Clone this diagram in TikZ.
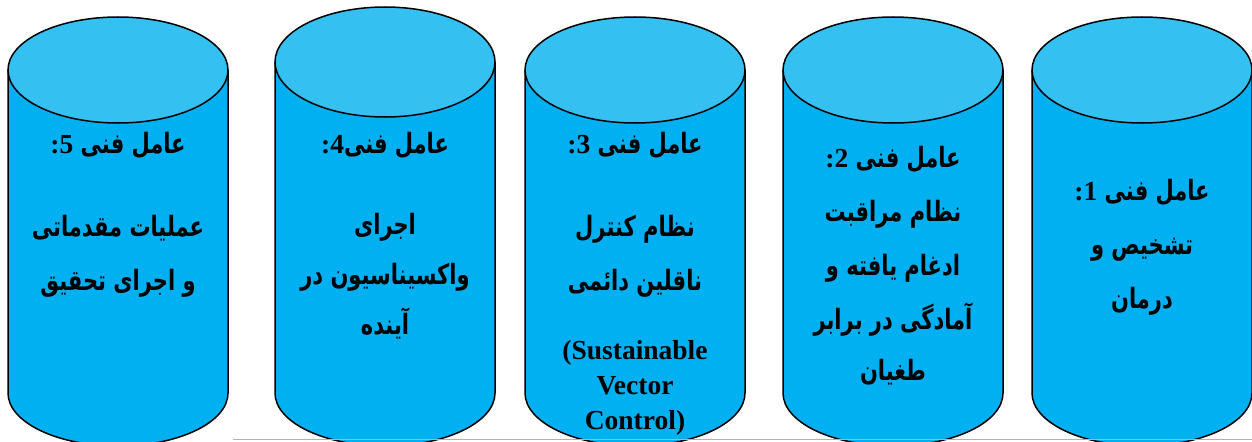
\documentclass[tikz,border=0pt]{standalone}
\usepackage{fontspec}
\setmainfont{Liberation Serif}
\newfontfamily\fafont[Script=Arabic,FakeStretch=0.75]{DejaVu Sans}
\TeXXeTstate=1
\definecolor{cylbody}{HTML}{00B0F0}
\definecolor{cyltop}{HTML}{35C0F2}
\newcommand{\fa}[1]{\beginR{\fafont\fontsize{11.2}{21.6}\selectfont #1}\endR}
\newcommand{\fanum}[2]{\beginR{\fafont\fontsize{11.2}{21.6}\selectfont #1}#2\kern0pt:\endR}
\tikzset{
  cylline/.style={draw=black,line width=0.6pt},
  label text/.style={font=\fontsize{11}{21.6}\selectfont\bfseries,align=center,inner sep=0pt,anchor=north},
  latin text/.style={font=\fontsize{11}{14}\selectfont\bfseries,align=center,inner sep=0pt,anchor=north}
}
\begin{document}
\begin{tikzpicture}[x=0.4pt,y=0.4pt]

\clip (0,0) rectangle (1252,441);
\fill[white] (0,0) rectangle (1252,441);

\foreach \cx/\cy/\ry in {118/371/53, 385/379/55, 635/371/53, 893/371/53, 1142/371/53} {
  \fill[cylbody] (\cx-110,\cy) -- (\cx-110,48) arc[start angle=180,end angle=360,x radius=110,y radius=53] -- (\cx+110,\cy) -- cycle;
  \draw[cylline] (\cx-110,\cy) -- (\cx-110,48) arc[start angle=180,end angle=360,x radius=110,y radius=53] -- (\cx+110,\cy);
  \draw[cylline,fill=cyltop] (\cx,\cy) ellipse [x radius=110,y radius=\ry];
}
\draw[gray!60,line width=0.6pt] (233,1.5) -- (1252,1.5);

\node (t5) at (118,309) [label text] {\fanum{عامل فنی }{5}\\[11.6pt] \fa{عملیات مقدماتی}\\ \fa{و اجرای تحقیق}};
\node (t4) at (385,309) [label text] {\fanum{عامل فنی}{4}\\[10.6pt] \fa{اجرای}\\[-1.6pt] \fa{واکسیناسیون در}\\[-1.6pt] \fa{آینده}};
\node (t3) at (635,309) [label text] {\fanum{عامل فنی }{3}\\[11.6pt] \fa{نظام کنترل}\\ \fa{ناقلین دائمی}};
\node (svc) at (635,101) [latin text] {(Sustainable\\ Vector\\ Control)};
\node (t2) at (893,295) [label text] {\fanum{عامل فنی }{2}\\ \fa{نظام مراقبت}\\ \fa{ادغام یافته و}\\ \fa{آمادگی در برابر}\\[-1.2pt] \fa{طغیان}};
\node (t1) at (1142,262) [label text] {\fanum{عامل فنی }{1}\\ \fa{تشخیص و}\\ \fa{درمان}};

\end{tikzpicture}
\end{document}
